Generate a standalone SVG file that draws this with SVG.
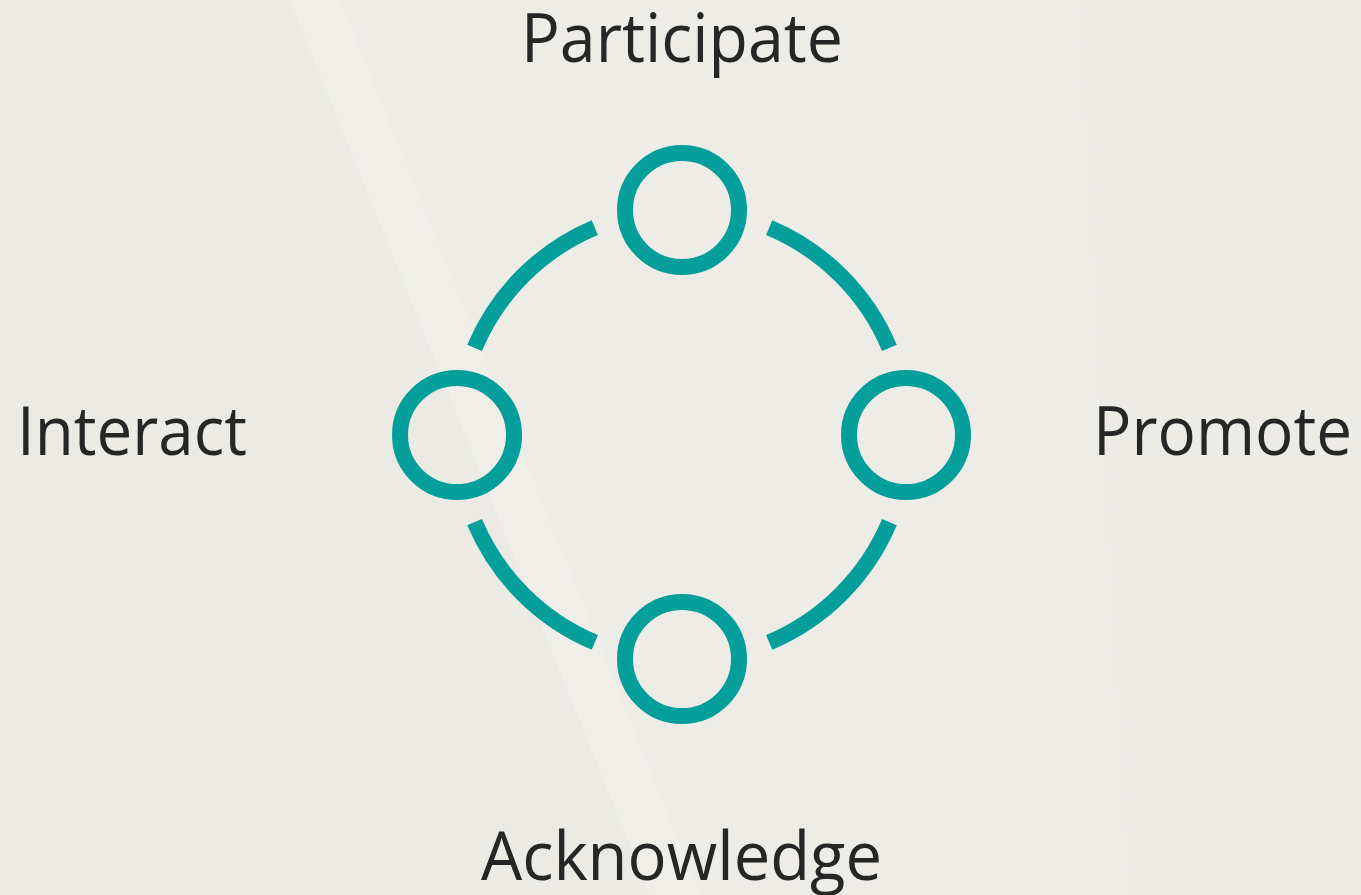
<svg xmlns="http://www.w3.org/2000/svg" width="1361" height="895" viewBox="0 0 1361 895">
<style>
.node{fill:none;stroke:#049e9b;stroke-width:16}
.arc{fill:none;stroke:#049e9b;stroke-width:16;stroke-linecap:butt}
.lbl{font-family:"Open Sans","Noto Sans","Liberation Sans",sans-serif;font-size:68px;fill:#262626}
</style>
<rect width="1361" height="895" fill="#eeece7"/>
<g id="background">
<polygon points="0,0 290,0 650,895 0,895" fill="#ebeae4"/>
<polygon points="290,0 340,0 700,895 650,895" fill="#f0eee9"/>
<polygon points="1080,0 1361,0 1361,895 1130,895" fill="#edebe6"/>
</g>
<g id="connectors">
<path class="arc" d="M474.6,347.8 A225,225 0 0 1 594.8,227.6"/>
<path class="arc" d="M769.2,227.6 A225,225 0 0 1 889.4,347.8"/>
<path class="arc" d="M889.4,522.2 A225,225 0 0 1 769.2,642.4"/>
<path class="arc" d="M594.8,642.4 A225,225 0 0 1 474.6,522.2"/>
</g>
<g id="node-participate">
<circle class="node" cx="682" cy="210" r="57"/>
<text class="lbl" x="521" y="62" textLength="322" lengthAdjust="spacingAndGlyphs">Participate</text>
</g>
<g id="node-interact">
<circle class="node" cx="457" cy="435" r="57"/>
<text class="lbl" x="17" y="455" textLength="230" lengthAdjust="spacingAndGlyphs">Interact</text>
</g>
<g id="node-promote">
<circle class="node" cx="906" cy="435" r="57"/>
<text class="lbl" x="1093" y="455" textLength="259" lengthAdjust="spacingAndGlyphs">Promote</text>
</g>
<g id="node-acknowledge">
<circle class="node" cx="682" cy="659" r="57"/>
<text class="lbl" x="481" y="880" textLength="401" lengthAdjust="spacingAndGlyphs">Acknowledge</text>
</g>
</svg>
